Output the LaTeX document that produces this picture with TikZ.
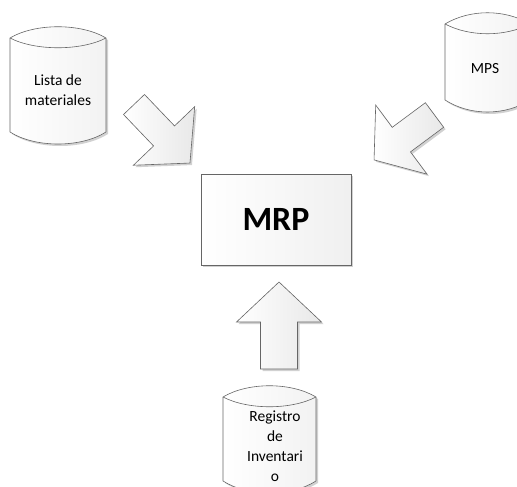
\documentclass[tikz,border=0pt]{standalone}
\usepackage{fontspec}
\setmainfont{Carlito}
\usepackage{tikz}
\usetikzlibrary{positioning}
\usetikzlibrary{shadows}
\tikzset{
  contorno/.style={draw=black!60, line width=0.6pt},
  sombra/.style={drop shadow={shadow xshift=2pt,shadow yshift=-2pt,fill=black,opacity=0.18}},
  cilindro/.style={contorno, sombra, left color=white, right color=black!5},
  flecha/.style={contorno, sombra, left color=white, right color=black!9},
  texto/.style={font=\fontsize{15.5}{20}\selectfont, align=center, inner sep=0pt},
}
% cuerpo del cilindro: izquierda, derecha, arriba, abajo
\newcommand\basedatos[4]{
  \draw[cilindro] (#1,#3) .. controls +(25,-15) and +(-25,-15) .. (#2,#3)
    -- (#2,#4) .. controls +(-25,16) and +(25,16) .. (#1,#4) -- cycle;
  \draw[contorno] (#1,#3) .. controls +(25,13) and +(-25,13) .. (#2,#3);
}

\begin{document}
\begin{tikzpicture}[x=1pt, y=-1pt]
	\useasboundingbox (0,0) rectangle (517,487);
	% bases de datos
	\basedatos{10}{106}{38}{132}
	\basedatos{445}{530}{24}{100}
	\basedatos{223}{316}{397}{481}
	\node[texto] (lista) at (58,90.5) {Lista de\\materiales};
	\node[texto] (mps) at (485,69) {MPS};
	\node[texto] (registro) at (275,446.5) {Registro\\de\\Inventari\\o};
	% bloque central
	\node[contorno, sombra, left color=white, right color=black!6, minimum width=150pt, minimum height=91pt,
	      font=\fontsize{34}{40}\selectfont\bfseries] (mrp) at (276,219.5) {MRP};
	% flechas
	\draw[flecha, shift={(134,104.5)}, rotate=-46.3] (0,-14.5) -- (43.5,-14.5) -- (43.5,-42.4) -- (81,0)
	    -- (43.5,42.4) -- (43.5,14.5) -- (0,14.5) -- cycle;
	\draw[flecha, shift={(434.5,115)}, rotate=216.6] (0,-15.3) -- (41.3,-15.3) -- (41.3,-43) -- (75.3,0)
	    -- (41.3,43) -- (41.3,15.3) -- (0,15.3) -- cycle;
	\draw[flecha, shift={(279,369)}, rotate=90] (0,-18.5) -- (47,-18.5) -- (47,-42.5) -- (87,0)
	    -- (47,42.5) -- (47,18.5) -- (0,18.5) -- cycle;
\end{tikzpicture}
\end{document}
